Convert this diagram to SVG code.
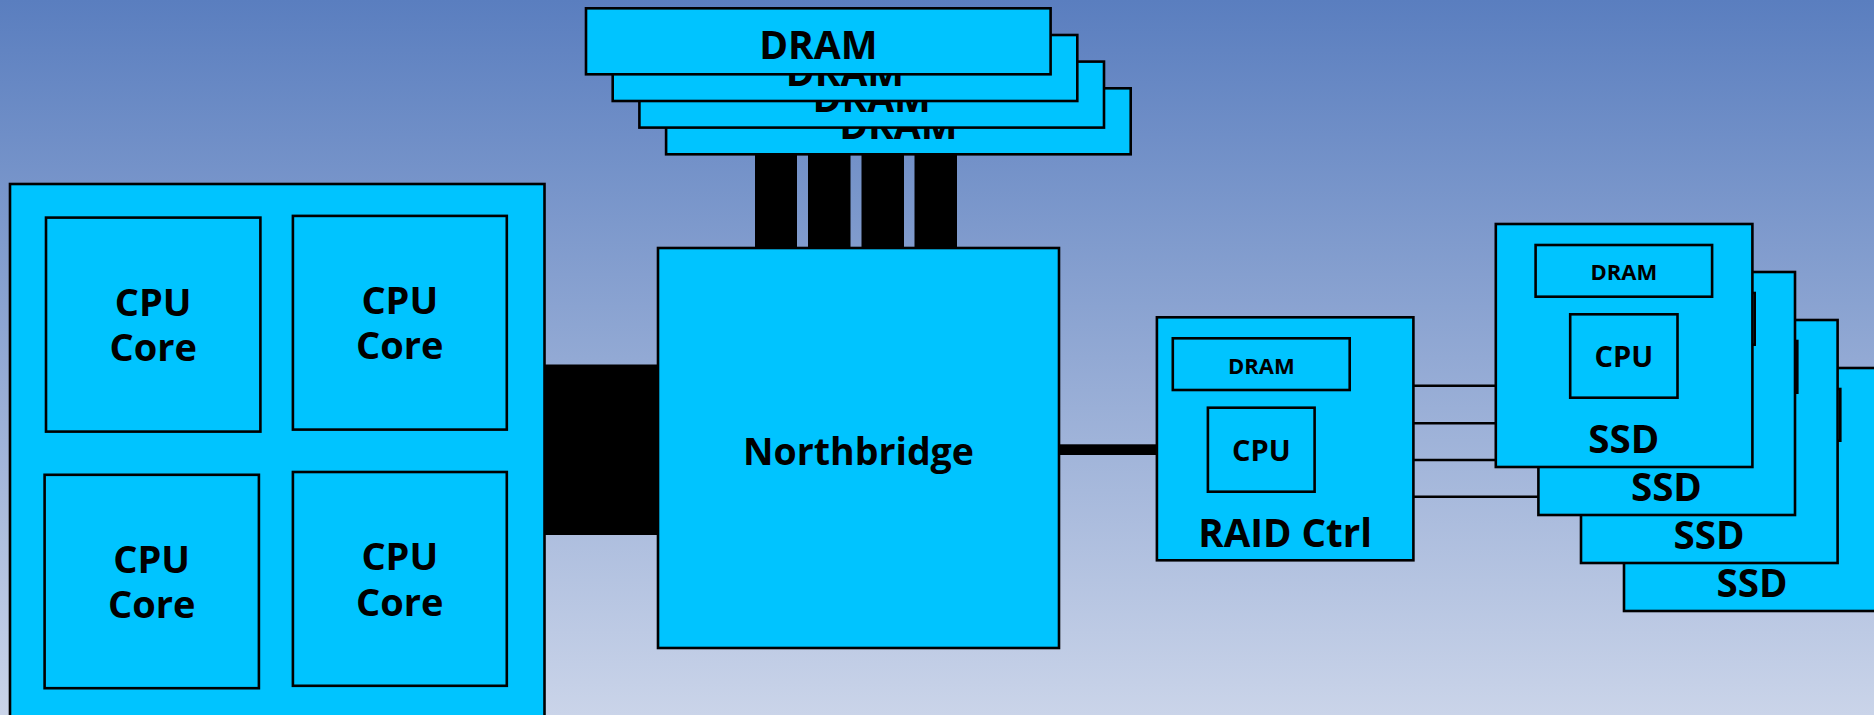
<svg xmlns="http://www.w3.org/2000/svg" width="1874" height="715" viewBox="0 0 1874 715">
<defs>
<linearGradient id="bg" x1="0" y1="0" x2="0" y2="1">
<stop offset="0" stop-color="#5A7EBF"/>
<stop offset="1" stop-color="#CAD4E9"/>
</linearGradient>
<style>
.box{fill:#00C4FF;stroke:#000;stroke-width:2.6}
.bus{fill:#000}
.wire{stroke:#000;stroke-width:2.6;fill:none}
text{font-family:"Open Sans","Noto Sans","Liberation Sans",sans-serif;font-weight:bold;fill:#000;text-anchor:middle}
.nb{font-size:37.5px}
.dr{font-size:39px}
.core{font-size:38px}
.big{font-size:38.5px}
.cpu{font-size:29px}
.sm{font-size:22px}
</style>
</defs>
<rect x="0" y="0" width="1874" height="715" fill="url(#bg)"/>

<g id="connectors">
<rect class="bus" x="540" y="364.5" width="120" height="170.5"/>
<rect class="bus" x="755" y="150" width="42" height="100"/>
<rect class="bus" x="808" y="150" width="42.5" height="100"/>
<rect class="bus" x="861.5" y="150" width="42.5" height="100"/>
<rect class="bus" x="914.5" y="150" width="42.5" height="100"/>
<rect class="bus" x="1055" y="444.3" width="105" height="10.7"/>
<line class="wire" x1="1412" y1="385.7" x2="1500" y2="385.7"/>
<line class="wire" x1="1412" y1="423.3" x2="1500" y2="423.3"/>
<line class="wire" x1="1412" y1="460" x2="1500" y2="460"/>
<line class="wire" x1="1412" y1="496.7" x2="1542" y2="496.7"/>
</g>

<g id="cpu">
<rect class="box" x="10" y="184" width="534.5" height="560"/>
<g id="core1">
<rect class="box" x="46" y="217.6" width="214.4" height="214"/>
<text class="core" x="153.2" y="316">CPU</text>
<text class="core" x="153.2" y="361.1">Core</text>
</g>
<g id="core2">
<rect class="box" x="292.9" y="215.9" width="213.9" height="213.7"/>
<text class="core" x="399.8" y="314.3">CPU</text>
<text class="core" x="399.8" y="359.4">Core</text>
</g>
<g id="core3">
<rect class="box" x="44.6" y="474.8" width="214.3" height="213.4"/>
<text class="core" x="151.7" y="573.2">CPU</text>
<text class="core" x="151.7" y="618.3">Core</text>
</g>
<g id="core4">
<rect class="box" x="292.9" y="472" width="213.9" height="213.8"/>
<text class="core" x="399.8" y="570.4">CPU</text>
<text class="core" x="399.8" y="615.5">Core</text>
</g>
</g>

<g id="dram4">
<rect class="box" x="666.1" y="88.3" width="464.6" height="66"/>
<text class="dr" x="898.4" y="139">DRAM</text>
</g>
<g id="dram3">
<rect class="box" x="639.4" y="61.6" width="464.6" height="66"/>
<text class="dr" x="871.7" y="112.3">DRAM</text>
</g>
<g id="dram2">
<rect class="box" x="612.7" y="35" width="464.6" height="66"/>
<text class="dr" x="845" y="85.7">DRAM</text>
</g>
<g id="dram1">
<rect class="box" x="586" y="8.3" width="464.6" height="66"/>
<text class="dr" x="818.3" y="59">DRAM</text>
</g>

<g id="northbridge">
<rect class="box" x="658" y="248" width="401" height="400"/>
<text class="nb" x="858.5" y="465">Northbridge</text>
</g>

<g id="raid">
<rect class="box" x="1156.9" y="317.3" width="256.5" height="243"/>
<rect class="box" x="1172.8" y="338.3" width="176.9" height="51.7"/>
<text class="sm" x="1261.3" y="374">DRAM</text>
<rect class="box" x="1207.9" y="407.7" width="106.7" height="84"/>
<text class="cpu" x="1261.3" y="460.7">CPU</text>
<text class="big" x="1285.2" y="546.7">RAID Ctrl</text>
</g>

<g id="ssd4" transform="translate(1624,368)">
<rect class="box" x="0" y="0" width="256.6" height="243"/>
<rect class="box" x="39.8" y="21" width="176.5" height="51.7"/>
<text class="big" x="128" y="229.3">SSD</text>
</g>
<g id="ssd3" transform="translate(1581,320)">
<rect class="box" x="0" y="0" width="256.6" height="243"/>
<rect class="box" x="39.8" y="21" width="176.5" height="51.7"/>
<text class="big" x="128" y="229.3">SSD</text>
</g>
<g id="ssd2" transform="translate(1538.4,272)">
<rect class="box" x="0" y="0" width="256.6" height="243"/>
<rect class="box" x="39.8" y="21" width="176.5" height="51.7"/>
<text class="big" x="128" y="229.3">SSD</text>
</g>
<g id="ssd1" transform="translate(1495.8,224)">
<rect class="box" x="0" y="0" width="256.6" height="243"/>
<rect class="box" x="39.8" y="21" width="176.5" height="51.7"/>
<text class="sm" x="128" y="56">DRAM</text>
<rect class="box" x="74.4" y="90.3" width="107.3" height="83.4"/>
<text class="cpu" x="128" y="143.3">CPU</text>
<text class="big" x="128" y="229.3">SSD</text>
</g>
</svg>
